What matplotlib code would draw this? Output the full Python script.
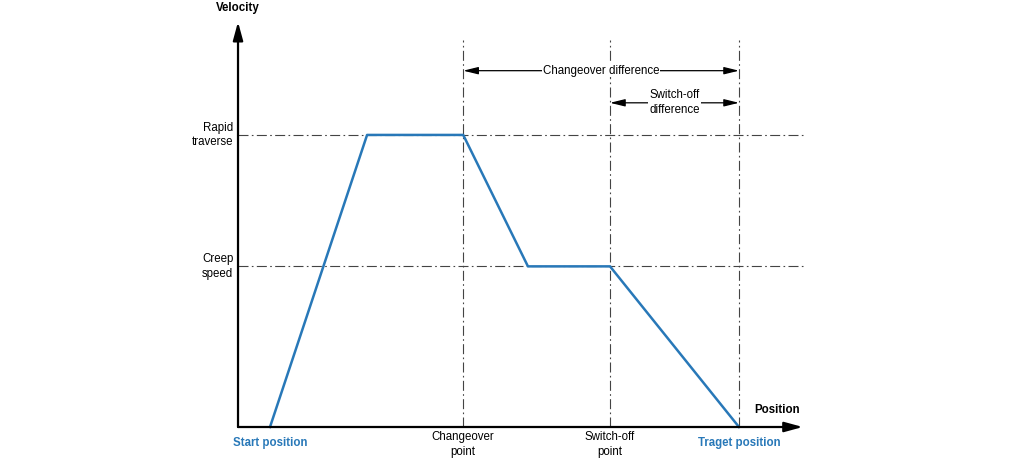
import numpy as np
import matplotlib.pyplot as plt

plt.rcParams["font.family"] = ["Liberation Sans", "DejaVu Sans"]

# velocity profile (position in % of travel, velocity in % of rapid traverse)
position = [0, 20.7, 41.2, 55.0, 72.5, 100.0]
velocity = [0, 100, 100, 55, 55, 0]

rapid = 100
creep = 55
changeover_pos = 41.2
switchoff_pos = 72.5
target_pos = 100.0

blue = "#2878b8"
grey = "#444444"
fs = 8.3

fig = plt.figure(figsize=(10.24, 4.61), dpi=100)
ax = fig.add_axes([0, 0, 1, 1])
ax.set_xlim(-57.57, 160.77)
ax.set_ylim(-11.64, 146.2)
ax.axis("off")

x0 = -6.82      # axis origin
x_end = 113.6
y_top = 138.7

# axes with arrows
ax.annotate("", xy=(x_end, 0), xytext=(x0, 0),
            arrowprops=dict(arrowstyle="-|>,head_length=1.1,head_width=0.3", color="black", lw=1.6, shrinkA=0, shrinkB=0))
ax.annotate("", xy=(x0, y_top), xytext=(x0, 0),
            arrowprops=dict(arrowstyle="-|>,head_length=1.1,head_width=0.3", color="black", lw=1.6, shrinkA=0, shrinkB=0))

# reference lines
for v in [rapid, creep]:
    ax.plot([x0, x_end], [v, v], color=grey, lw=0.8, ls=(0, (9, 3, 1.5, 3)))
for p in [changeover_pos, switchoff_pos, target_pos]:
    ax.plot([p, p], [0, 132.5], color=grey, lw=0.8, ls=(0, (9, 3, 1.5, 3)))

# profile
ax.plot(position, velocity, color=blue, lw=1.8)

# dimension arrows
arr = dict(arrowstyle="<|-|>,head_length=0.9,head_width=0.22", color="black", lw=0.9, shrinkA=0, shrinkB=0)
ax.annotate("", xy=(changeover_pos, 122), xytext=(target_pos, 122), arrowprops=arr)
ax.text((changeover_pos + target_pos) / 2, 122, "Changeover difference", ha="center", va="center",
        fontsize=fs, bbox=dict(facecolor="white", edgecolor="none", pad=0.5))
ax.annotate("", xy=(switchoff_pos, 111), xytext=(target_pos, 111), arrowprops=arr)
ax.text((switchoff_pos + target_pos) / 2, 111, "Switch-off\ndifference", ha="center", va="center",
        fontsize=fs, linespacing=1.3, bbox=dict(facecolor="white", edgecolor="none", pad=1))

# labels
ax.text(x0, 143.5, "Velocity", ha="center", va="center", fontsize=fs, fontweight="bold")
ax.text(x_end - 5.5, 5.8, "Position", ha="center", va="center", fontsize=fs, fontweight="bold")
ax.text(x0 - 1, rapid, "Rapid\ntraverse", ha="right", va="center", fontsize=fs, linespacing=1.3)
ax.text(x0 - 1, creep, "Creep\nspeed", ha="right", va="center", fontsize=fs, linespacing=1.3)

ax.text(0, -5.5, "Start position", ha="center", va="center", fontsize=fs, fontweight="bold", color=blue)
ax.text(changeover_pos, -6.0, "Changeover\npoint", ha="center", va="center", fontsize=fs, linespacing=1.3)
ax.text(switchoff_pos, -6.0, "Switch-off\npoint", ha="center", va="center", fontsize=fs, linespacing=1.3)
ax.text(target_pos, -5.5, "Traget position", ha="center", va="center", fontsize=fs, fontweight="bold", color=blue)

plt.savefig("out.png", dpi=100)
